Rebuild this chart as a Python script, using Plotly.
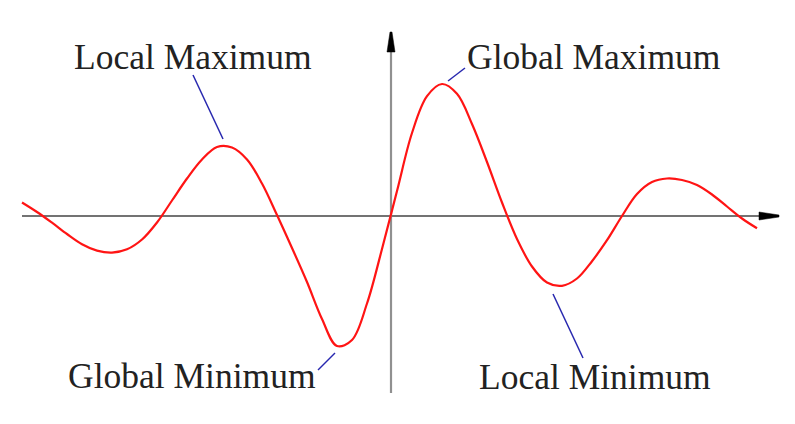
import plotly.graph_objects as go

# Curve samples at even steps (1 unit = 40 px)
curve_x = [-9.225, -8.85, -8.475, -8.1, -7.725, -7.35, -6.975, -6.6, -6.225, -5.85,
           -5.475, -5.1, -4.725, -4.35, -3.975, -3.6, -3.225, -2.85, -2.475, -2.1,
           -1.725, -1.35, -0.975, -0.6, -0.225, 0.15, 0.525, 0.9, 1.275, 1.65,
           2.025, 2.4, 2.775, 3.15, 3.525, 3.9, 4.275, 4.65, 5.025, 5.4,
           5.775, 6.15, 6.525, 6.9, 7.275, 7.65, 8.025, 8.4, 8.775, 9.15]
curve_y = [0.3375, 0.1, -0.1675, -0.45, -0.705, -0.865, -0.915, -0.8325, -0.5875, -0.1625,
           0.3875, 0.9375, 1.4125, 1.725, 1.7125, 1.4125, 0.8125, 0.025, -0.8, -1.65,
           -2.575, -3.25, -3.1, -2.1875, -0.825, 0.625, 2.075, 2.995, 3.3, 3.055,
           2.3, 1.35, 0.3375, -0.575, -1.2625, -1.6625, -1.745, -1.5625, -1.13, -0.605,
           0.0, 0.55, 0.85, 0.9375, 0.9, 0.775, 0.5375, 0.2375, -0.0625, -0.3075]

label_text = ["Local Maximum", "Global Maximum", "Global Minimum", "Local Minimum"]
label_x = [-4.95, 5.075, -4.975, 5.1]
label_y = [3.975, 3.975, -4.0, -4.025]
# leader lines: (x0, y0, x1, y1)
leader = [(-4.95, 3.525, -4.2, 1.925),
          (1.425, 3.375, 1.85, 3.7),
          (-1.825, -3.85, -1.4, -3.425),
          (4.05, -1.95, 4.8, -3.55)]

PAGE_OFFSET = 8  # default body margin of the html page
X_RANGE = [(PAGE_OFFSET - 391) / 40, (795 + PAGE_OFFSET - 391) / 40]
Y_RANGE = [(216 - 424 - PAGE_OFFSET) / 40, (216 - PAGE_OFFSET) / 40]

fig = go.Figure()
fig.add_trace(go.Scatter(x=curve_x, y=curve_y, mode="lines",
                         line=dict(color="rgb(255,20,20)", width=2.2, shape="spline", smoothing=1.0),
                         hoverinfo="skip", showlegend=False))

shapes = []
# axes
shapes.append(dict(type="line", xref="x", yref="y", x0=-9.225, x1=9.3, y0=0, y1=0,
                   line=dict(color="#444444", width=1.4), layer="below"))
shapes.append(dict(type="line", xref="x", yref="y", x0=0, x1=0, y0=-4.425, y1=4.3,
                   line=dict(color="#909090", width=2.2), layer="below"))
# arrowheads (pixel-sized)
shapes.append(dict(type="path", xref="x", yref="y", xsizemode="pixel", ysizemode="pixel",
                   xanchor=9.7, yanchor=0, path="M0,-1 L0,1 L-20,4 L-20,-4 Z",
                   fillcolor="black", line=dict(color="black", width=0.5)))
shapes.append(dict(type="path", xref="x", yref="y", xsizemode="pixel", ysizemode="pixel",
                   xanchor=0, yanchor=4.6, path="M-1,0 L1,0 L4,-20 L-4,-20 Z",
                   fillcolor="black", line=dict(color="black", width=0.5)))
for (x0, y0, x1, y1) in leader:
    shapes.append(dict(type="line", xref="x", yref="y", x0=x0, y0=y0, x1=x1, y1=y1,
                       line=dict(color="rgb(40,40,175)", width=1.5)))

annotations = []
for t, x, y in zip(label_text, label_x, label_y):
    annotations.append(dict(text=t, x=x, y=y, xref="x", yref="y", showarrow=False,
                            xanchor="center", yanchor="middle",
                            font=dict(family="Liberation Serif", size=35.5, color="#222222")))

fig.update_layout(
    width=795, height=424, autosize=False,
    margin=dict(l=0, r=0, t=0, b=0),
    paper_bgcolor="white", plot_bgcolor="white",
    xaxis=dict(range=X_RANGE, visible=False, fixedrange=True),
    yaxis=dict(range=Y_RANGE, visible=False, fixedrange=True),
    shapes=shapes, annotations=annotations,
)

fig.write_html("out.html")
